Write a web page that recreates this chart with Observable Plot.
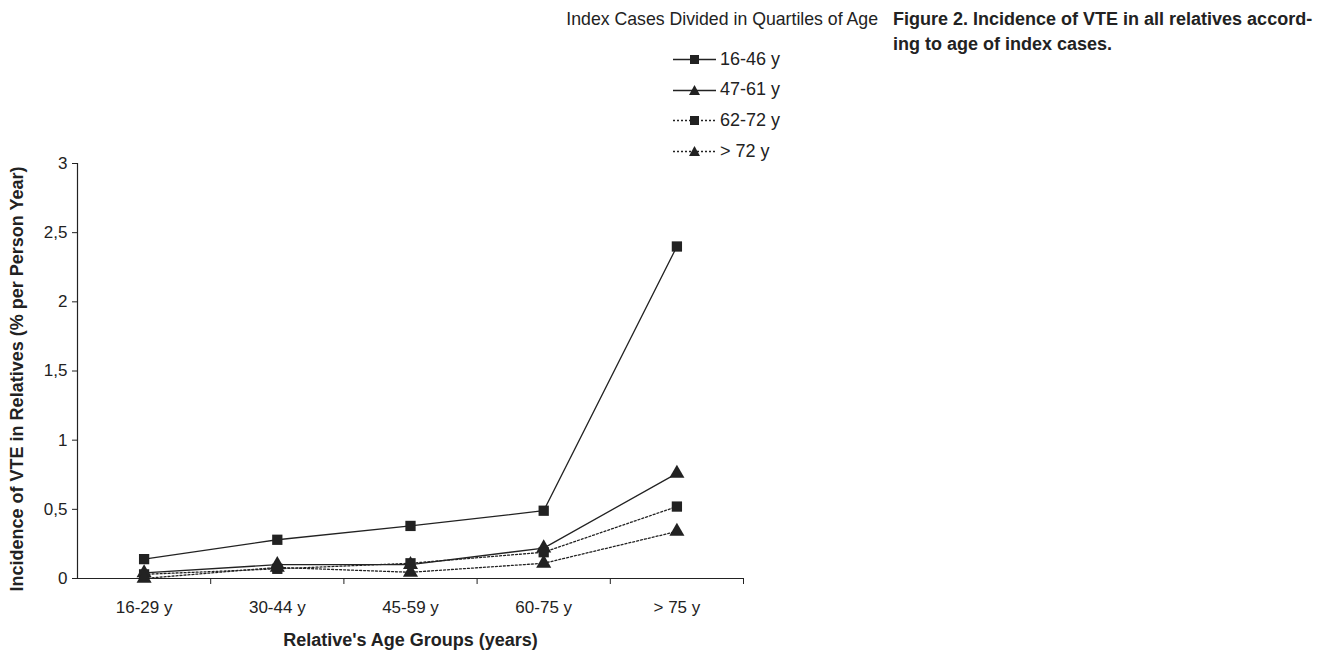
<!DOCTYPE html>
<html>
<head>
<meta charset="utf-8">
<script src="https://cdn.jsdelivr.net/npm/d3@7"></script>
<script src="https://cdn.jsdelivr.net/npm/@observablehq/plot@0.6"></script>
<style>
  html, body { margin: 0; padding: 0; background: #fff; }
  body { width: 1327px; height: 652px; position: relative; overflow: hidden; font-family: "Liberation Sans", Arial, sans-serif; color: #222; }
  #chart { position: absolute; left: 0; top: 0; }
  #legendTitle { position: absolute; right: 449px; top: 9px; font-size: 17.7px; white-space: nowrap; }
  #legend { position: absolute; left: 673px; top: 44px; font-size: 18px; }
  .row { display: flex; align-items: center; height: 30.6px; }
  .row svg { margin-right: 4px; }
  #caption { position: absolute; left: 893px; top: 7px; width: 430px; font-size: 18px; font-weight: bold; line-height: 25px; }
</style>
</head>
<body>
<div id="chart"></div>
<div id="legendTitle">Index Cases Divided in Quartiles of Age</div>
<div id="legend"></div>
<div id="caption">Figure 2. Incidence of VTE in all relatives accord-<br>ing to age of index cases.</div>
<script>
const categories = ["16-29 y", "30-44 y", "45-59 y", "60-75 y", "> 75 y"];
const seriesNames = ["16-46 y", "47-61 y", "62-72 y", "> 72 y"];
const s1646 = [0.14, 0.28, 0.38, 0.49, 2.40];
const s4761 = [0.04, 0.10, 0.10, 0.22, 0.76];
const s6272 = [0.03, 0.07, 0.11, 0.19, 0.52];
const sOver72 = [0.00, 0.08, 0.045, 0.11, 0.34];
const yTicks = [0, 0.5, 1, 1.5, 2, 2.5, 3];

const seriesValues = [s1646, s4761, s6272, sOver72];
const seriesSymbol = ["square", "triangle", "square", "triangle"];
const seriesDash = [null, null, "2,2", "2,2"];

const data = [];
seriesValues.forEach((vals, si) => {
  vals.forEach((v, ci) => data.push({series: seriesNames[si], cat: ci + 0.5, value: v, si}));
});

const ink = "#222";
const marks = [];
seriesNames.forEach((name, si) => {
  const d = data.filter(r => r.si === si);
  marks.push(Plot.line(d, {x: "cat", y: "value", stroke: ink, strokeWidth: 1.3, strokeDasharray: seriesDash[si]}));
});
seriesNames.forEach((name, si) => {
  const d = data.filter(r => r.si === si);
  marks.push(Plot.dot(d, {x: "cat", y: "value", symbol: () => seriesSymbol[si], fill: ink, stroke: "none", r: seriesSymbol[si] === "square" ? 5.8 : 5.6}));
});

const chart = Plot.plot({
  width: 760,
  height: 652,
  marginLeft: 77,
  marginRight: 17,
  marginTop: 163,
  marginBottom: 74,
  style: {fontFamily: "'Liberation Sans', Arial, sans-serif", fontSize: "17px", color: ink, background: "white"},
  x: {domain: [0, 5], axis: null},
  y: {domain: [0, 3], axis: null},
  symbol: {type: "identity"},
  marks: [
    Plot.axisY({ticks: yTicks, tickSize: 5, tickPadding: 5, tickFormat: d => String(d).replace(".", ","), label: null, fontSize: 17, stroke: ink, fill: ink}),
    Plot.axisX({ticks: [1, 2, 3, 4, 5], tickSize: 6, tickFormat: () => "", label: null, stroke: ink}),
    Plot.axisX({ticks: [0.5, 1.5, 2.5, 3.5, 4.5], tickSize: 0, tickPadding: 22, tickFormat: d => categories[Math.round(d - 0.5)], label: null, fontSize: 17, fill: ink}),
    Plot.ruleX([0], {stroke: ink, strokeWidth: 1.2}),
    Plot.ruleY([0], {stroke: ink, strokeWidth: 1.2}),
    Plot.text(["Relative's Age Groups (years)"], {frameAnchor: "bottom", dy: 67, fontWeight: "bold", fontSize: 18, fill: ink}),
    Plot.text(["Incidence of VTE in Relatives (% per Person Year)"], {frameAnchor: "left", textAnchor: "middle", dx: -60, dy: 8, rotate: -90, fontWeight: "bold", fontSize: 18, fill: ink}),
    ...marks
  ]
});
document.getElementById("chart").appendChild(chart);

// legend
const legend = document.getElementById("legend");
seriesNames.forEach((name, si) => {
  const row = document.createElement("div");
  row.className = "row";
  const sym = seriesSymbol[si] === "square"
    ? `<rect x="17" y="6" width="9" height="9" fill="${ink}"/>`
    : `<path d="M21.5,5 L27,15 L16,15 Z" fill="${ink}"/>`;
  const dash = seriesDash[si] ? `stroke-dasharray="${seriesDash[si]}"` : "";
  row.innerHTML = `<svg width="43" height="20"><line x1="0" y1="10.5" x2="43" y2="10.5" stroke="${ink}" stroke-width="1.3" ${dash}/>${sym}</svg><span>${name}</span>`;
  legend.appendChild(row);
});
</script>
</body>
</html>
